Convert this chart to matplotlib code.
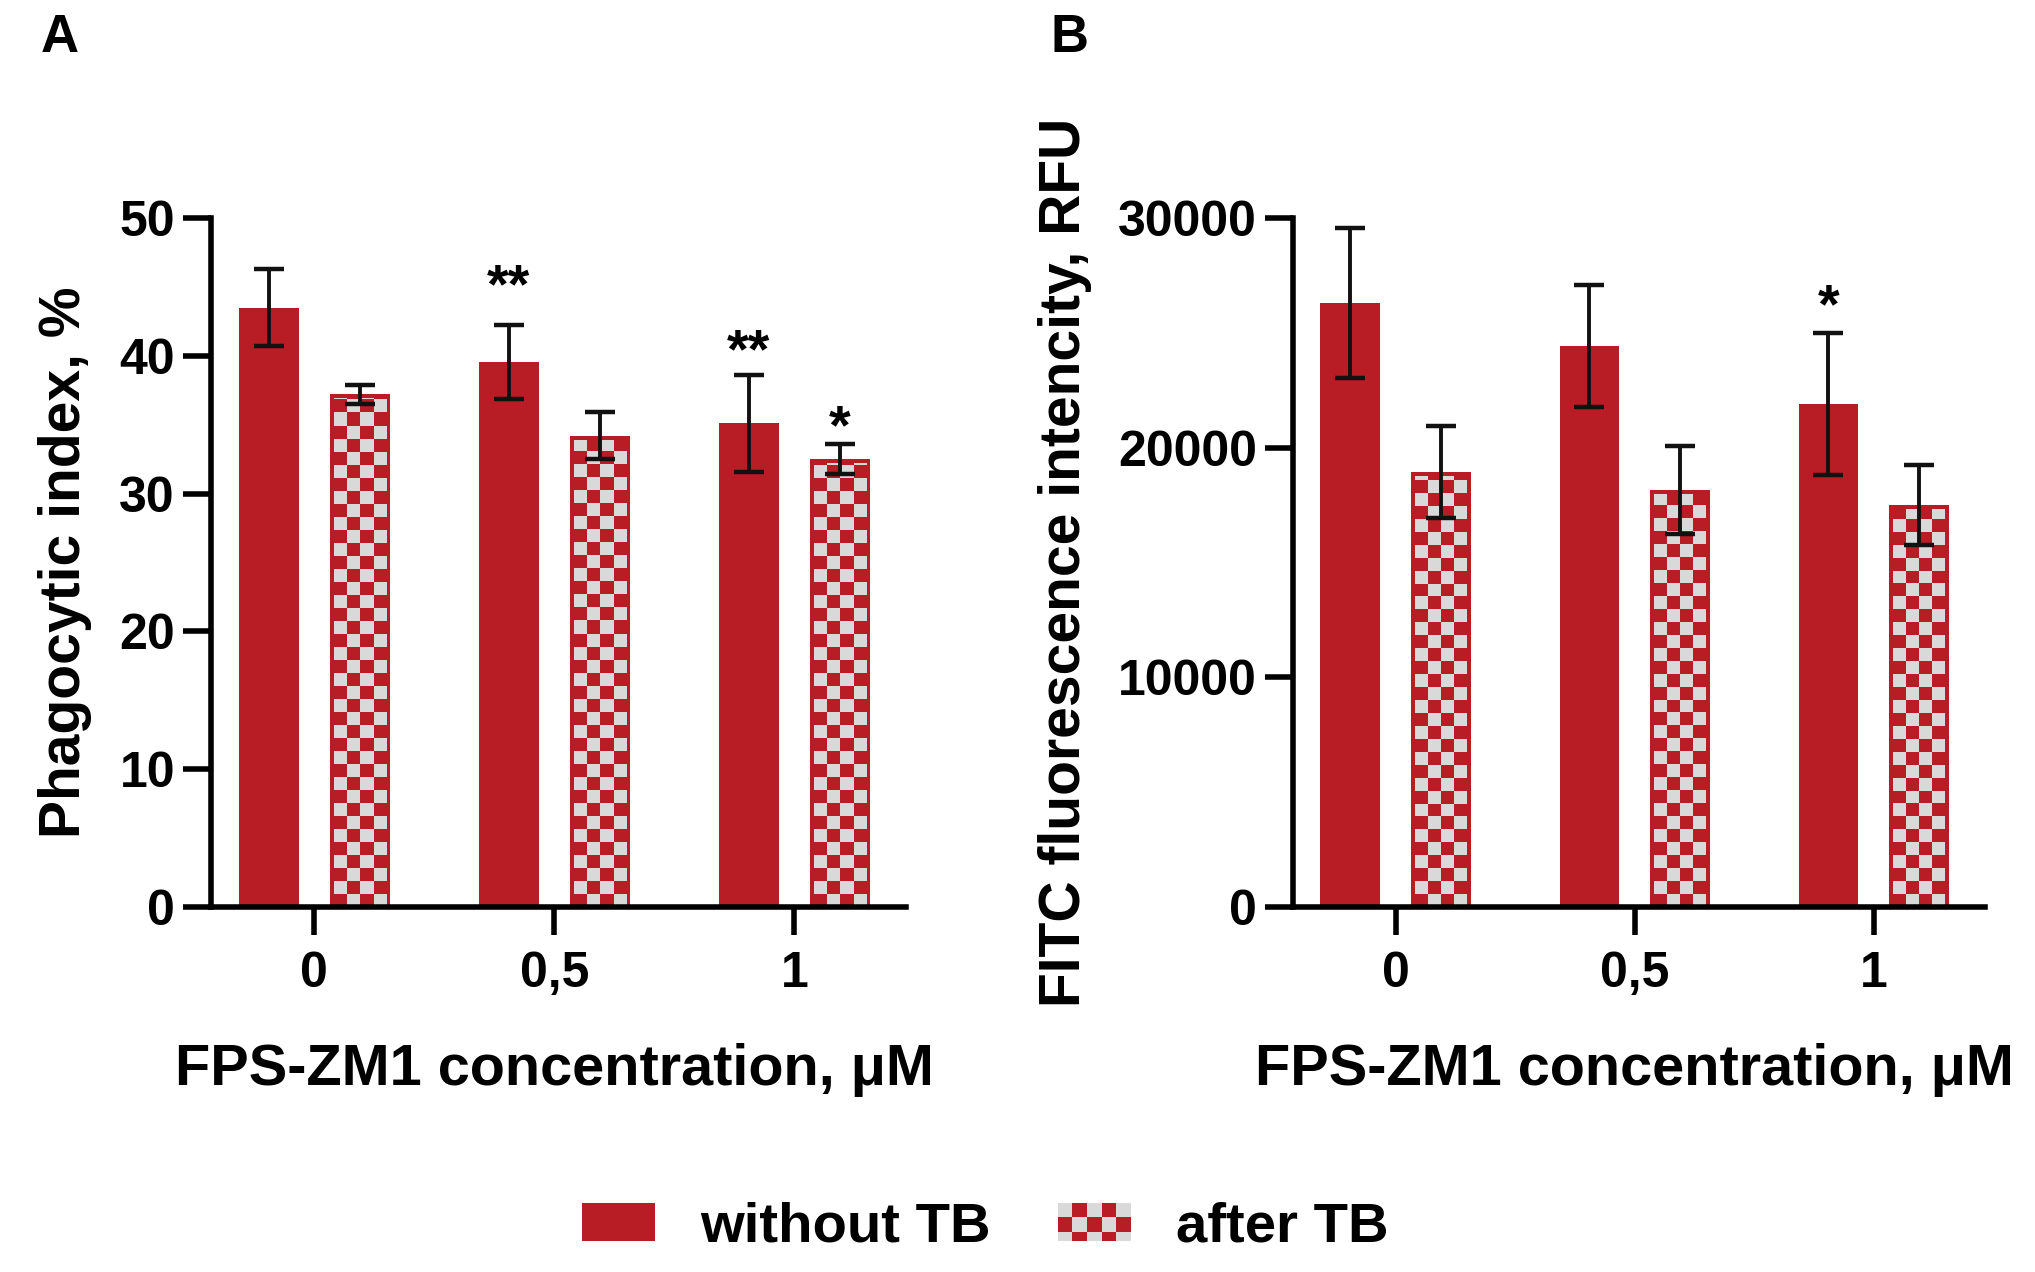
import numpy as np
import matplotlib
matplotlib.use("Agg")
import matplotlib.pyplot as plt
from matplotlib.patches import Rectangle, Patch
from matplotlib.colors import ListedColormap
from matplotlib.legend_handler import HandlerBase

# ---------------- data ----------------
concentrations = ["0", "0,5", "1"]
series_labels = ["without TB", "after TB"]

phago_without = [43.5, 39.55, 35.1]
phago_without_err = [2.8, 2.7, 3.5]
phago_after = [37.2, 34.2, 32.5]
phago_after_err = [0.7, 1.7, 1.1]

fitc_without = [26300, 24430, 21900]
fitc_without_err = [3250, 2650, 3100]
fitc_after = [18940, 18160, 17500]
fitc_after_err = [2000, 1900, 1750]

# significance marks: (group index, series index, text, vertical centre of mark)
phago_stars = [(1, 0, "**", 46.2), (2, 0, "**", 41.5), (2, 1, "*", 36.0)]
fitc_stars = [(2, 0, "*", 26860)]

phago_yticks = [0, 10, 20, 30, 40, 50]
fitc_yticks = [0, 10000, 20000, 30000]

xlabel_text = "FPS-ZM1 concentration, \u03bcM"
phago_ylabel = "Phagocytic index, %"
fitc_ylabel = "FITC fluorescence intencity, RFU"

# ---------------- style ----------------
RED = "#B81C24"
GRAY = "#D9D9D9"
FONT = "Liberation Sans"
plt.rcParams["font.family"] = [FONT, "DejaVu Sans"]
plt.rcParams["font.weight"] = "bold"

W, H = 2035, 1272
fig = plt.figure(figsize=(W / 100, H / 100), dpi=100)
axA = fig.add_axes([211 / W, 1 - 907 / H, 695 / W, 689 / H])
axB = fig.add_axes([1293 / W, 1 - 907 / H, 692 / W, 689 / H])

BAR_W = 0.25
OFF = 0.19
offsets = [-OFF, OFF]


def checker_fill(ax, bars, ncols=4, inset_px=4.0):
    inv = ax.transData.inverted()
    cmap = ListedColormap([RED, GRAY])
    for rect in bars:
        x0, y0 = rect.get_x(), rect.get_y()
        w, h = rect.get_width(), rect.get_height()
        px0, py0 = ax.transData.transform((x0, y0))
        px1, py1 = ax.transData.transform((x0 + w, y0 + h))
        wpx, hpx = px1 - px0, py1 - py0
        cell = (wpx - 2 * inset_px) / ncols
        nrows = int(np.ceil(hpx / cell)) + 1
        ix0 = inv.transform((px0 + inset_px, py0))[0]
        ix1 = inv.transform((px1 - inset_px, py0))[0]
        ytop = inv.transform((px0, py0 + nrows * cell))[1]
        arr = np.add.outer(np.arange(nrows), np.arange(ncols)) % 2
        im = ax.imshow(arr, cmap=cmap, vmin=0, vmax=1, origin="lower",
                       extent=(ix0, ix1, y0, ytop), interpolation="nearest",
                       aspect="auto", zorder=2.1)
        yclip = inv.transform((px0, py1 - inset_px))[1]
        clip = Rectangle((x0, y0), w, yclip - y0, transform=ax.transData)
        im.set_clip_path(clip)


def draw_panel(ax, without, without_err, after, after_err, yticks, ylabel,
               stars, ylabel_x):
    x = np.arange(len(concentrations))
    values = [without, after]
    errs = [without_err, after_err]
    bar_sets = []
    for s in range(2):
        bars = ax.bar(x + offsets[s], values[s], BAR_W, color=RED,
                      edgecolor="none", zorder=2)
        bar_sets.append(bars)
        ax.errorbar(x + offsets[s], values[s], yerr=errs[s], fmt="none",
                    ecolor="#111111", elinewidth=2.8, capsize=11,
                    capthick=3.2, zorder=4)
    ax.set_xlim(-0.43, 2.465)
    ax.set_ylim(yticks[0], yticks[-1])
    ax.set_yticks(yticks)
    ax.set_yticklabels([str(t) for t in yticks])
    ax.set_xticks(x)
    ax.set_xticklabels(concentrations)
    for sp in ["top", "right"]:
        ax.spines[sp].set_visible(False)
    for sp in ["left", "bottom"]:
        ax.spines[sp].set_linewidth(4)
        ax.spines[sp].set_color("black")
    ax.tick_params(axis="both", length=20, width=4, labelsize=36,
                   color="black")
    ax.tick_params(axis="y", pad=6)
    ax.tick_params(axis="x", pad=12)
    for lab in ax.get_xticklabels() + ax.get_yticklabels():
        lab.set_fontweight("bold")
    ax.set_xlabel(xlabel_text, fontsize=41.5, fontweight="bold")
    ax.xaxis.set_label_coords(0.494, -0.197)
    ax.set_ylabel(ylabel, fontsize=41, fontweight="bold")
    ax.yaxis.set_label_coords(ylabel_x, 0.5)
    for g, s, txt, yc in stars:
        ax.annotate(txt, xy=(x[g] + offsets[s], yc), xytext=(0, -23),
                    textcoords="offset points", ha="center", va="baseline",
                    fontsize=40, fontweight="bold", annotation_clip=False)
    checker_fill(ax, bar_sets[1])
    ax.set_xlim(-0.43, 2.465)
    ax.set_ylim(yticks[0], yticks[-1])


draw_panel(axA, phago_without, phago_without_err, phago_after,
           phago_after_err, phago_yticks, phago_ylabel, phago_stars, -0.171)
draw_panel(axB, fitc_without, fitc_without_err, fitc_after, fitc_after_err,
           fitc_yticks, fitc_ylabel, fitc_stars, -0.29)

fig.text(60 / W, 1 - 52 / H, "A", ha="center", va="baseline", fontsize=38,
         fontweight="bold")
fig.text(1069 / W, 1 - 52 / H, "B", ha="center", va="baseline", fontsize=38,
         fontweight="bold")


class CheckerHandler(HandlerBase):
    def create_artists(self, legend, orig_handle, xdescent, ydescent, width,
                       height, fontsize, trans):
        arts = [Rectangle((-xdescent, -ydescent), width, height,
                          facecolor=RED, edgecolor="none", transform=trans)]
        ncols = 5
        cw = width / ncols
        nrows = int(np.ceil(height / cw))
        for r in range(nrows):
            y_top = -ydescent + height - r * cw
            ch = min(cw, y_top + ydescent)
            for c in range(ncols):
                if (r + c) % 2 == 0:
                    arts.append(Rectangle((-xdescent + c * cw, y_top - ch),
                                          cw, ch, facecolor=GRAY,
                                          edgecolor="none", transform=trans))
        return arts


h_without = Patch(facecolor=RED, edgecolor="none", label=series_labels[0])
h_after = Patch(facecolor=RED, edgecolor="none", label=series_labels[1])
fig.legend(handles=[h_without, h_after], handler_map={h_after: CheckerHandler()},
           loc="center", bbox_to_anchor=(0.484, 0.035), ncol=2, frameon=False,
           prop={"family": FONT, "weight": "bold", "size": 40.5},
           handlelength=1.3, handleheight=0.67, handletextpad=0.8,
           columnspacing=1.2)

fig.savefig("out.png", dpi=100, facecolor="white")
